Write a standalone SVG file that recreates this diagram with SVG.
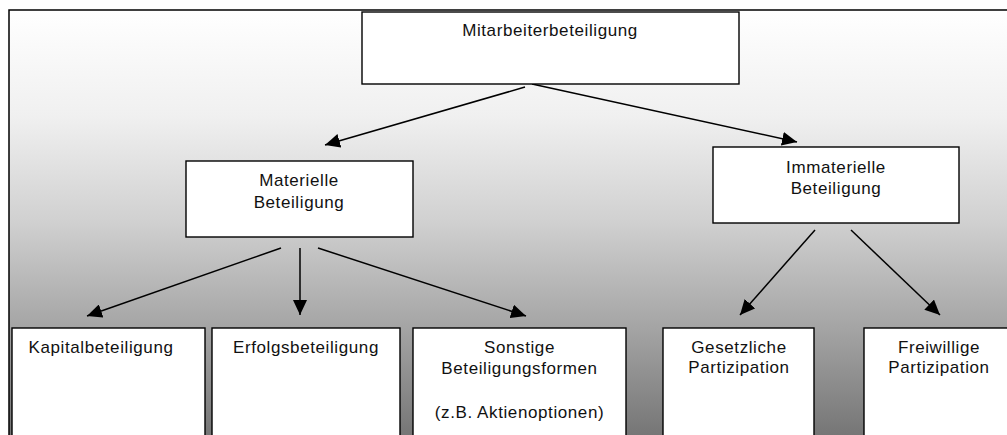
<svg xmlns="http://www.w3.org/2000/svg" width="1007" height="435" viewBox="0 0 1007 435">
<defs>
<linearGradient id="bg" x1="0" y1="10" x2="0" y2="435" gradientUnits="userSpaceOnUse">
<stop offset="0" stop-color="#ffffff"/>
<stop offset="0.25" stop-color="#f0f0f0"/>
<stop offset="0.5" stop-color="#d0d0d0"/>
<stop offset="0.75" stop-color="#a4a4a4"/>
<stop offset="1" stop-color="#767676"/>
</linearGradient>
<marker id="arr" markerUnits="userSpaceOnUse" markerWidth="16" markerHeight="14" refX="15" refY="7" orient="auto">
<path d="M0,0 L15,7 L0,14 z" fill="#000"/>
</marker>
<style>
.box{fill:#fff;stroke:#000;stroke-width:1.4}
.t{font-family:"Liberation Sans",Arial,sans-serif;font-size:17px;letter-spacing:0.6px;fill:#111;text-anchor:middle}
.c{stroke:#000;stroke-width:1.5;fill:none;marker-end:url(#arr)}
</style>
</defs>
<rect width="1007" height="435" fill="#fff"/>
<rect x="9" y="10" width="1010" height="440" fill="url(#bg)" stroke="#000" stroke-width="1.5"/>
<g id="connectors">
<line class="c" x1="525" y1="87" x2="325" y2="145"/>
<line class="c" x1="532" y1="84" x2="797" y2="142"/>
<line class="c" x1="281" y1="248" x2="87" y2="316"/>
<line class="c" x1="300" y1="248" x2="300" y2="315"/>
<line class="c" x1="318" y1="248" x2="526" y2="316"/>
<line class="c" x1="815" y1="230" x2="740" y2="315"/>
<line class="c" x1="851" y1="230" x2="940" y2="315"/>
</g>
<g id="mitarbeiterbeteiligung">
<rect class="box" x="362" y="12" width="377" height="72"/>
<text class="t" x="550" y="36">Mitarbeiterbeteiligung</text>
</g>
<g id="materielle">
<rect class="box" x="186" y="161" width="227" height="76"/>
<text class="t" x="299" y="186">Materielle</text>
<text class="t" x="299" y="208">Beteiligung</text>
</g>
<g id="immaterielle">
<rect class="box" x="713" y="147" width="246" height="76"/>
<text class="t" x="836" y="173">Immaterielle</text>
<text class="t" x="836" y="194">Beteiligung</text>
</g>
<g id="kapital">
<rect class="box" x="12" y="328" width="193" height="120"/>
<text class="t" x="101" y="353">Kapitalbeteiligung</text>
</g>
<g id="erfolg">
<rect class="box" x="212" y="328" width="188" height="120"/>
<text class="t" x="306" y="353">Erfolgsbeteiligung</text>
</g>
<g id="sonstige">
<rect class="box" x="413" y="328" width="213" height="120"/>
<text class="t" x="519.5" y="353">Sonstige</text>
<text class="t" x="519.5" y="374">Beteiligungsformen</text>
<text class="t" x="519.5" y="418">(z.B. Aktienoptionen)</text>
</g>
<g id="gesetzliche">
<rect class="box" x="663" y="328" width="151" height="120"/>
<text class="t" x="739" y="353">Gesetzliche</text>
<text class="t" x="739" y="373">Partizipation</text>
</g>
<g id="freiwillige">
<rect class="box" x="864" y="328" width="160" height="120"/>
<text class="t" x="939" y="353">Freiwillige</text>
<text class="t" x="939" y="373">Partizipation</text>
</g>
</svg>
